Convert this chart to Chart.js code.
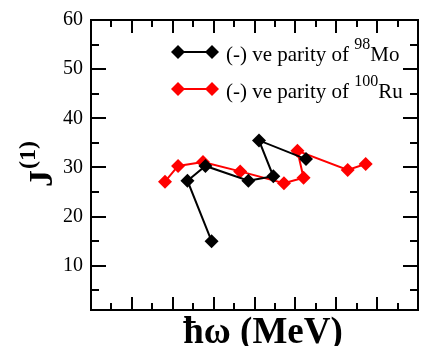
<!DOCTYPE html>
<html>
<head>
<meta charset="utf-8">
<script src="https://cdn.jsdelivr.net/npm/chart.js@4.4.0/dist/chart.umd.min.js"></script>
<style>
  html, body { margin: 0; padding: 0; background: #fff; }
  #wrap { width: 425px; height: 346px; }
</style>
</head>
<body>
<div id="wrap"><canvas id="jChart" width="425" height="346"></canvas></div>
<script>
// (-) ve parity band of 98Mo
const moOmega = [0.295, 0.236, 0.280, 0.385, 0.446, 0.411, 0.526];
const moJ1    = [15.0, 27.3, 30.3, 27.3, 28.2, 35.5, 31.7];

// (-) ve parity band of 100Ru
const ruOmega = [0.181, 0.213, 0.274, 0.365, 0.472, 0.520, 0.505, 0.628, 0.672];
const ruJ1    = [27.1, 30.3, 31.1, 29.2, 26.8, 27.9, 33.4, 29.5, 30.7];

// tick positions (major + minor)
const yTickValues = [5, 10, 15, 20, 25, 30, 35, 40, 45, 50, 55, 60];
const yLabels = [10, 20, 30, 40, 50, 60];
const xTickValues = [0.05, 0.1, 0.15, 0.2, 0.25, 0.3, 0.35, 0.4, 0.45, 0.5, 0.55, 0.6, 0.65, 0.7, 0.75];

const SERIF = "'Liberation Serif', 'Times New Roman', serif";

function toPoints(xs, ys) {
    return xs.map((x, i) => ({ x: x, y: ys[i] }));
}

function diamond(ctx, x, y, r, color) {
    ctx.beginPath();
    ctx.moveTo(x, y - r);
    ctx.lineTo(x + r, y);
    ctx.lineTo(x, y + r);
    ctx.lineTo(x - r, y);
    ctx.closePath();
    ctx.fillStyle = color;
    ctx.fill();
}

// frame with inward ticks on all four sides
const framePlugin = {
    id: 'frame',
    beforeDatasetsDraw(chart) {
        const ctx = chart.ctx;
        const { left, right, top, bottom } = chart.chartArea;
        const xs = chart.scales.x, ys = chart.scales.y;
        ctx.save();
        ctx.strokeStyle = '#000';
        ctx.lineWidth = 2;
        ctx.beginPath();
        yTickValues.forEach(v => {
            const py = Math.round(ys.getPixelForValue(v));
            const len = v % 10 === 0 ? 15 : 8;
            ctx.moveTo(left, py); ctx.lineTo(left + len, py);
            ctx.moveTo(right, py); ctx.lineTo(right - len, py);
        });
        xTickValues.forEach(v => {
            const px = Math.round(xs.getPixelForValue(v));
            const len = Math.round(v * 100) % 10 === 0 ? 13 : 7;
            ctx.moveTo(px, bottom); ctx.lineTo(px, bottom - len);
            ctx.moveTo(px, top); ctx.lineTo(px, top + len);
        });
        ctx.stroke();
        ctx.strokeRect(left, top, right - left, bottom - top);
        ctx.restore();
    },
    afterDraw(chart) {
        const ctx = chart.ctx;
        ctx.save();
        ctx.fillStyle = '#000';

        // legend
        const rows = [
            { y: 52, color: '#000', sup: '98', el: 'Mo' },
            { y: 89, color: '#ff0000', sup: '100', el: 'Ru' }
        ];
        rows.forEach(r => {
            ctx.strokeStyle = r.color;
            ctx.lineWidth = 2;
            ctx.beginPath();
            ctx.moveTo(178, r.y); ctx.lineTo(212, r.y);
            ctx.stroke();
            diamond(ctx, 178, r.y, 7, r.color);
            diamond(ctx, 212, r.y, 7, r.color);

            ctx.fillStyle = '#000';
            ctx.textBaseline = 'alphabetic';
            ctx.textAlign = 'left';
            ctx.font = '21px ' + SERIF;
            const base = r.y + 9;
            let tx = 226;
            const lead = '(-) ve parity of ';
            ctx.fillText(lead, tx, base);
            tx += ctx.measureText(lead).width;
            ctx.font = '16px ' + SERIF;
            ctx.fillText(r.sup, tx, base - 12);
            tx += ctx.measureText(r.sup).width;
            ctx.font = '21px ' + SERIF;
            ctx.fillText(r.el, tx, base);
        });

        // y title: J^(1)
        ctx.save();
        ctx.translate(52, 187);
        ctx.rotate(-Math.PI / 2);
        ctx.textAlign = 'left';
        ctx.textBaseline = 'alphabetic';
        ctx.font = 'bold 34px ' + SERIF;
        ctx.fillText('J', 0, 0);
        const jw = ctx.measureText('J').width;
        ctx.font = 'bold 24px ' + SERIF;
        ctx.fillText('(1)', jw + 1, -17);
        ctx.restore();

        // x title
        ctx.font = 'bold 37px ' + SERIF;
        ctx.textAlign = 'center';
        ctx.fillText('\u0127\u03C9 (MeV)', 263, 343);
        ctx.restore();
    }
};

const ctx = document.getElementById('jChart').getContext('2d');
const chart = new Chart(ctx, {
    type: 'scatter',
    data: {
        datasets: [{
            label: '98Mo',
            data: toPoints(moOmega, moJ1),
            showLine: true,
            borderColor: '#000',
            backgroundColor: '#000',
            borderWidth: 2,
            pointStyle: 'rectRot',
            pointRadius: 7,
            pointBorderWidth: 0,
            pointHoverRadius: 7
        }, {
            label: '100Ru',
            data: toPoints(ruOmega, ruJ1),
            showLine: true,
            borderColor: '#ff0000',
            backgroundColor: '#ff0000',
            borderWidth: 2,
            pointStyle: 'rectRot',
            pointRadius: 7,
            pointBorderWidth: 0,
            pointHoverRadius: 7
        }]
    },
    options: {
        responsive: false,
        animation: false,
        layout: { padding: { top: 16, right: 1, left: 0, bottom: 0 } },
        plugins: {
            legend: { display: false },
            tooltip: { enabled: false }
        },
        scales: {
            x: {
                type: 'linear',
                min: 0,
                max: 0.8,
                grid: { display: false, drawTicks: false },
                border: { display: false },
                ticks: { display: false },
                afterFit: s => { s.height = 36; }
            },
            y: {
                type: 'linear',
                min: 1,
                max: 60,
                grid: { display: false, drawTicks: false },
                border: { display: false },
                afterBuildTicks: s => { s.ticks = yLabels.map(v => ({ value: v })); },
                ticks: {
                    color: '#000',
                    padding: 8,
                    font: { family: SERIF, size: 20 }
                },
                afterFit: s => { s.width = 91; }
            }
        }
    },
    plugins: [framePlugin]
});
</script>
</body>
</html>
